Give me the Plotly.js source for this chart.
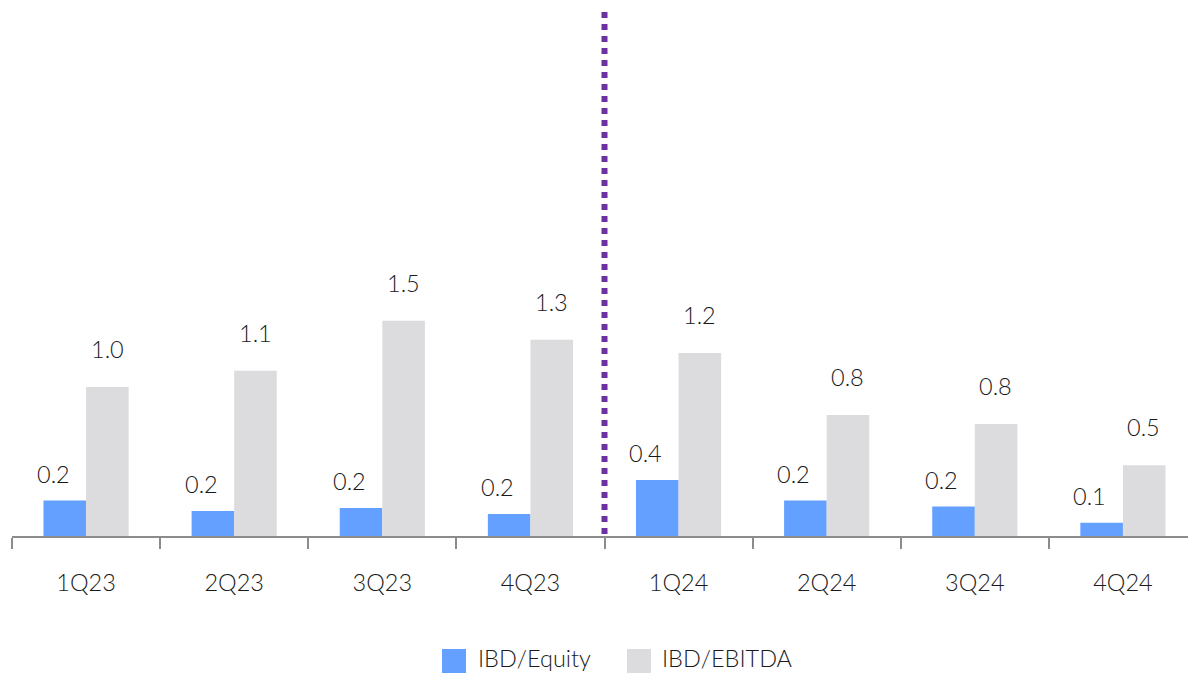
<!DOCTYPE html>
<html>
<head>
<meta charset="utf-8">
<script src="https://cdn.plot.ly/plotly-3.0.1.min.js"></script>
<style>
html,body{margin:0;padding:0;overflow:hidden;background:#fff;}
#chart{width:1198px;height:674px;}
</style>
</head>
<body>
<div id="chart"></div>
<script>
const categories = ["1Q23","2Q23","3Q23","4Q23","1Q24","2Q24","3Q24","4Q24"];
const ibdEquity = [0.24,0.17,0.19,0.15,0.38,0.24,0.20,0.09];
const ibdEbitda = [1.01,1.12,1.46,1.33,1.24,0.82,0.76,0.48];
const equityLabels = ["0.2","0.2","0.2","0.2","0.4","0.2","0.2","0.1"];
const ebitdaLabels = ["1.0","1.1","1.5","1.3","1.2","0.8","0.8","0.5"];
const seriesNames = ["IBD/Equity","IBD/EBITDA"];
const colors = ["#63A0FF","#DCDCDE"];

const FONT = "Lato, 'Open Sans', sans-serif";
const TXT = "#1a1a1a";
const FS = 23.5;

const traces = [
  {type:"bar", name:seriesNames[0], x:categories, y:ibdEquity, marker:{color:colors[0]}, hoverinfo:"skip", showlegend:false},
  {type:"bar", name:seriesNames[1], x:categories, y:ibdEbitda, marker:{color:colors[1]}, hoverinfo:"skip", showlegend:false}
];

// paper x from pixel
const PL = 12, PW = 1185;
const px = p => (p - PL) / PW;

const annotations = [];
categories.forEach((c,i)=>{
  annotations.push({x:c, y:ibdEquity[i], xref:"x", yref:"y", text:equityLabels[i], showarrow:false,
    xanchor:"center", yanchor:"middle", xshift:-33, yshift:27, font:{family:FONT, size:FS, color:TXT, weight:300}});
  annotations.push({x:c, y:ibdEbitda[i], xref:"x", yref:"y", text:ebitdaLabels[i], showarrow:false,
    xanchor:"center", yanchor:"middle", xshift:21, yshift:38, font:{family:FONT, size:FS, color:TXT, weight:300}});
});
// legend
annotations.push({x:px(476), y:-0.232, xref:"paper", yref:"paper", text:seriesNames[0], showarrow:false, xanchor:"left", yanchor:"middle", font:{family:FONT, size:FS, color:TXT, weight:300}});
annotations.push({x:px(660), y:-0.232, xref:"paper", yref:"paper", text:seriesNames[1], showarrow:false, xanchor:"left", yanchor:"middle", font:{family:FONT, size:FS, color:TXT, weight:300}});

const layout = {
  width:1198, height:674,
  margin:{l:PL, r:1, t:10, b:138},
  paper_bgcolor:"#fff", plot_bgcolor:"#fff",
  barmode:"group", bargap:0.425, bargroupgap:0,
  showlegend:false,
  font:{family:FONT, size:FS, color:TXT},
  xaxis:{
    type:"category", showline:true, linecolor:"#8c8c8c", linewidth:2,
    ticks:"outside", tickson:"boundaries", ticklen:11, tickwidth:2, tickcolor:"#8c8c8c",
    ticklabelstandoff:25, tickfont:{family:FONT, size:FS, color:TXT, weight:300},
    showgrid:false, zeroline:false, fixedrange:true
  },
  yaxis:{range:[0, 526/147.5], visible:false, showgrid:false, zeroline:false, fixedrange:true},
  shapes:[
    {type:"line", xref:"x", yref:"paper", x0:3.5, x1:3.5, y0:0.996, y1:0, line:{color:"#7030A0", width:6, dash:"dot"}},
    {type:"rect", xref:"paper", yref:"paper", x0:px(442), x1:px(466), y0:-(649-536)/526, y1:-(673-536)/526, fillcolor:colors[0], line:{width:0}},
    {type:"rect", xref:"paper", yref:"paper", x0:px(627), x1:px(651), y0:-(649-536)/526, y1:-(673-536)/526, fillcolor:colors[1], line:{width:0}}
  ],
  annotations:annotations
};

Plotly.newPlot("chart", traces, layout, {displayModeBar:false, staticPlot:true});
</script>
</body>
</html>
